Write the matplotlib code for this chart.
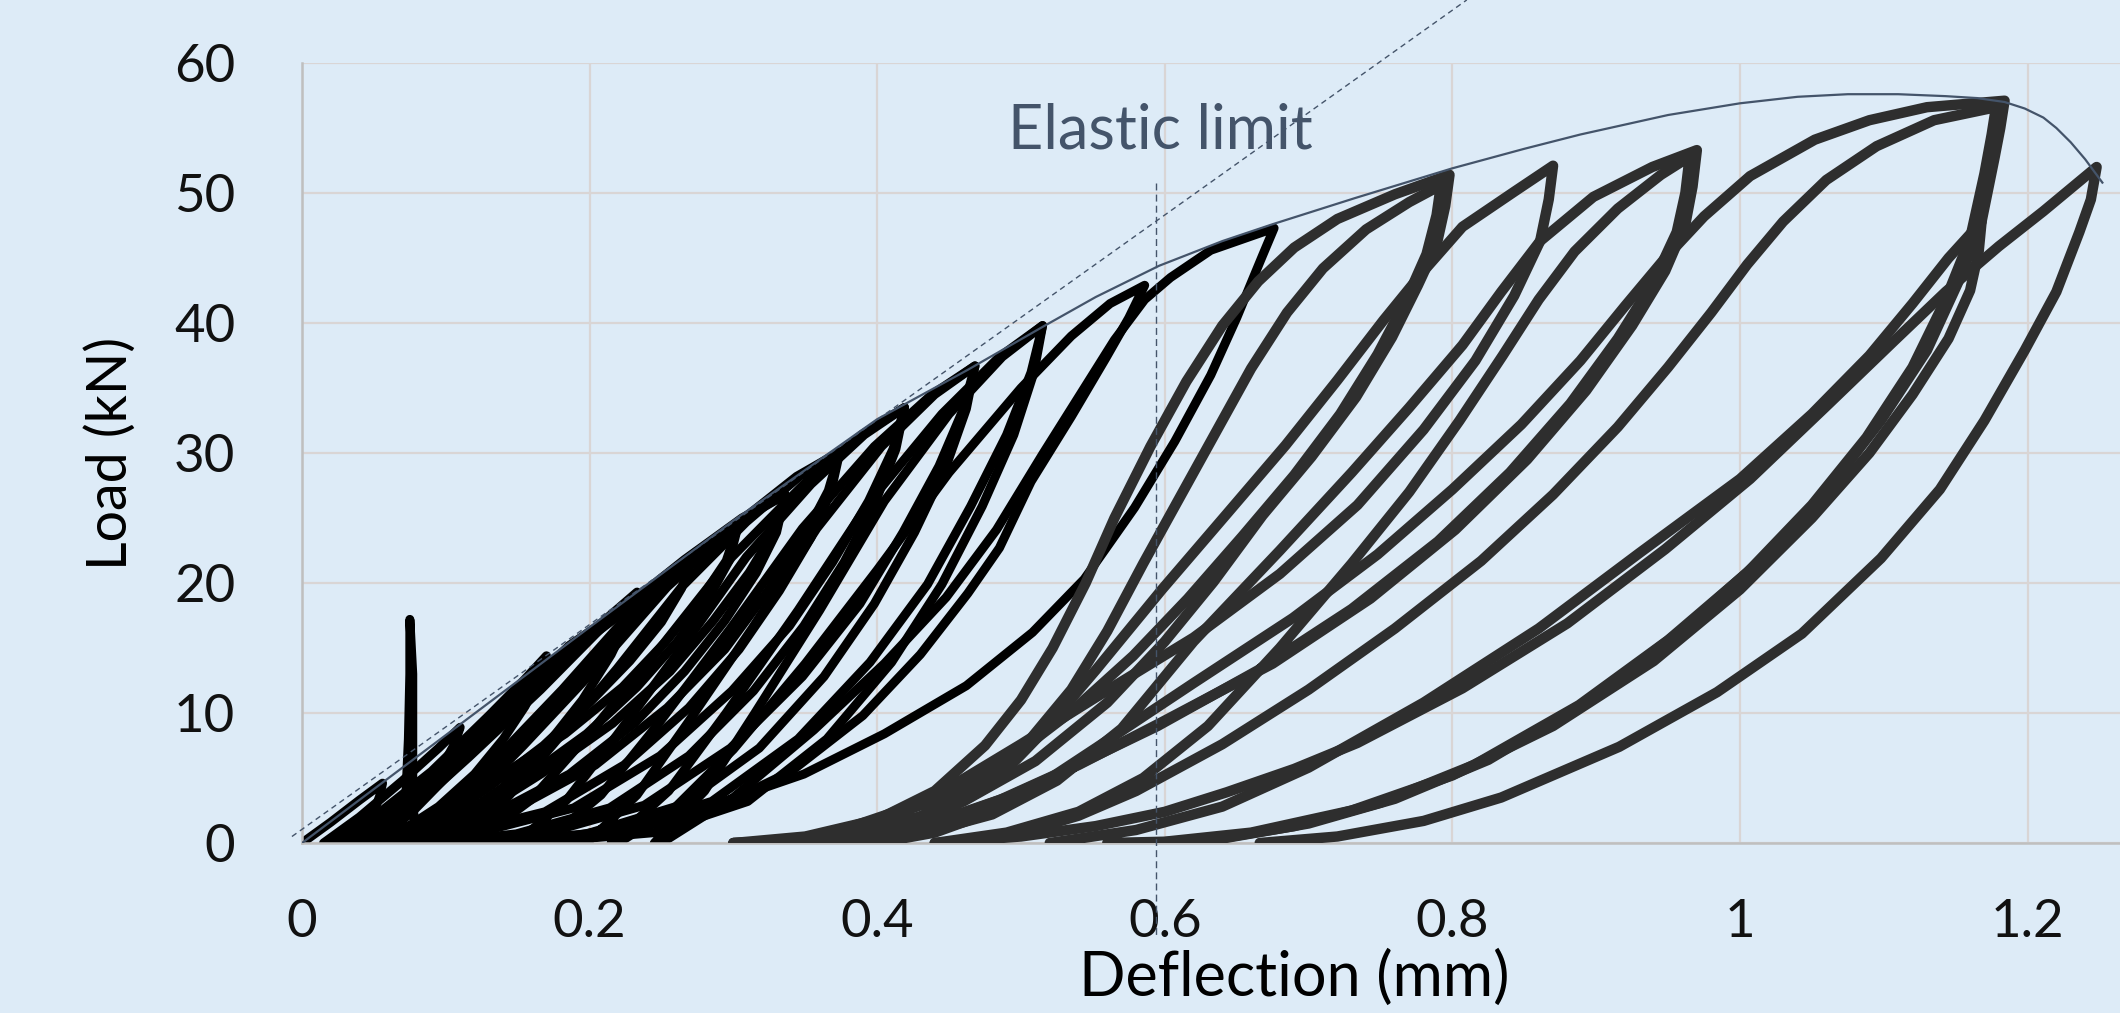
"""Cyclic load-deflection loops with envelope and elastic-limit marker."""
import matplotlib
matplotlib.use("Agg")
import matplotlib.pyplot as plt

BG = "#DDEBF7"
ENV_C = "#44546A"

plt.rcParams.update({
    "font.family": ["Lato", "DejaVu Sans"],
    "font.size": 38,
    "figure.dpi": 100,
})

# axis ticks
x_ticks = [0, 0.2, 0.4, 0.6, 0.8, 1.0, 1.2]
x_tick_labels = ["0", "0.2", "0.4", "0.6", "0.8", "1", "1.2"]
y_ticks = [0, 10, 20, 30, 40, 50, 60]

# early cycles (black): upper branch up to the tip, then back down
b01_x = [0.000, 0.020, 0.040, 0.056, 0.054, 0.050, 0.043, 0.035, 0.025]
b01_y = [0.0, 1.6, 3.3, 4.6, 3.6, 2.4, 1.2, 0.4, 0.0]
b02_x = [0.068, 0.072, 0.074, 0.075, 0.075, 0.077, 0.077, 0.077, 0.080]
b02_y = [0.0, 3.0, 8.0, 13.0, 17.2, 13.0, 8.0, 3.0, 0.0]
b03_x = [0.015, 0.040, 0.070, 0.095, 0.110, 0.106, 0.097, 0.085, 0.070, 0.055, 0.040]
b03_y = [0.0, 2.0, 4.8, 7.3, 8.9, 7.6, 5.8, 3.8, 2.0, 0.7, 0.0]
b04_x = [0.020, 0.050, 0.090, 0.130, 0.155, 0.170, 0.166, 0.155, 0.140, 0.120, 0.095, 0.070, 0.050]
b04_y = [0.0, 2.0, 5.5, 9.8, 12.6, 14.4, 12.8, 10.5, 8.0, 5.3, 2.8, 1.0, 0.0]
b05_x = [0.030, 0.060, 0.100, 0.140, 0.180, 0.210, 0.233,
         0.228, 0.215, 0.195, 0.170, 0.140, 0.110, 0.080, 0.050]
b05_y = [0.0, 1.8, 5.5, 9.8, 14.0, 17.1, 19.3, 17.5, 14.5, 11.0, 7.5, 4.3, 2.0, 0.6, 0.0]
b06_x = [0.050, 0.085, 0.120, 0.160, 0.200, 0.235, 0.255, 0.270,
         0.264, 0.250, 0.228, 0.200, 0.168, 0.130, 0.095, 0.065, 0.045]
b06_y = [0.0, 1.8, 4.6, 8.6, 13.3, 17.5, 19.9, 21.5,
         19.6, 17.0, 14.0, 10.8, 7.5, 4.3, 1.7, 0.4, 0.0]
b07_x = [0.030, 0.060, 0.095, 0.140, 0.186, 0.236, 0.274, 0.303,
         0.295, 0.278, 0.253, 0.223, 0.183, 0.133, 0.090, 0.060, 0.040]
b07_y = [0.0, 2.2, 5.6, 10.4, 15.2, 19.0, 22.4, 24.3,
         21.7, 18.9, 15.5, 12.0, 8.4, 4.8, 1.9, 0.5, 0.0]
b07b_x = [0.045, 0.075, 0.105, 0.148, 0.193, 0.238, 0.275, 0.303,
          0.297, 0.283, 0.261, 0.233, 0.198, 0.153, 0.105, 0.070, 0.050]
b07b_y = [0.0, 2.2, 5.6, 10.4, 15.2, 19.0, 22.4, 24.3,
          21.7, 18.9, 15.5, 12.0, 8.4, 4.8, 1.9, 0.5, 0.0]
b08_x = [0.036, 0.076, 0.116, 0.166, 0.216, 0.266, 0.306, 0.336,
         0.328, 0.311, 0.286, 0.256, 0.216, 0.166, 0.120, 0.080, 0.050]
b08_y = [0.0, 2.6, 6.6, 11.8, 17.4, 21.8, 25.0, 26.8,
         23.9, 20.8, 17.1, 13.2, 9.2, 5.3, 2.1, 0.5, 0.0]
b08b_x = [0.066, 0.101, 0.136, 0.181, 0.226, 0.271, 0.308, 0.336,
          0.330, 0.316, 0.294, 0.266, 0.231, 0.186, 0.131, 0.085, 0.055]
b08b_y = [0.0, 2.6, 6.6, 11.8, 17.4, 21.8, 25.0, 26.8,
          23.9, 20.8, 17.1, 13.2, 9.2, 5.3, 2.1, 0.5, 0.0]
b09_x = [0.074, 0.114, 0.154, 0.204, 0.254, 0.304, 0.344, 0.374,
         0.366, 0.349, 0.324, 0.294, 0.254, 0.204, 0.144, 0.095, 0.060]
b09_y = [0.0, 3.0, 7.5, 13.4, 19.7, 24.7, 28.2, 30.1,
         27.1, 23.5, 19.4, 14.9, 10.4, 6.0, 2.4, 0.6, 0.0]
b09b_x = [0.104, 0.139, 0.174, 0.219, 0.264, 0.309, 0.346, 0.374,
          0.368, 0.354, 0.332, 0.304, 0.269, 0.224, 0.169, 0.104, 0.065]
b09b_y = [0.0, 3.0, 7.5, 13.4, 19.7, 24.7, 28.2, 30.1,
          27.1, 23.5, 19.4, 14.9, 10.4, 6.0, 2.4, 0.6, 0.0]
b10_x = [0.119, 0.159, 0.199, 0.249, 0.299, 0.349, 0.389, 0.419,
         0.411, 0.394, 0.369, 0.339, 0.299, 0.249, 0.189, 0.119, 0.080]
b10_y = [0.0, 3.3, 8.3, 15.0, 22.0, 27.6, 31.4, 33.5,
         30.3, 26.3, 21.6, 16.7, 11.7, 6.7, 2.7, 0.7, 0.0]
b10b_x = [0.149, 0.184, 0.219, 0.264, 0.309, 0.354, 0.391, 0.419,
          0.413, 0.399, 0.377, 0.349, 0.314, 0.269, 0.214, 0.149, 0.090]
b10b_y = [0.0, 3.3, 8.3, 15.0, 22.0, 27.6, 31.4, 33.5,
          30.3, 26.3, 21.6, 16.7, 11.7, 6.7, 2.7, 0.7, 0.0]
b11_x = [0.168, 0.208, 0.248, 0.298, 0.348, 0.398, 0.438, 0.468,
         0.460, 0.443, 0.418, 0.388, 0.348, 0.298, 0.238, 0.168, 0.105]
b11_y = [0.0, 3.7, 9.2, 16.5, 24.2, 30.5, 34.5, 36.7,
         33.4, 29.0, 23.9, 18.4, 12.8, 7.3, 2.9, 0.7, 0.0]
b11b_x = [0.198, 0.233, 0.268, 0.313, 0.358, 0.403, 0.440, 0.468,
          0.462, 0.448, 0.426, 0.398, 0.363, 0.318, 0.263, 0.198, 0.125]
b11b_y = [0.0, 3.7, 9.2, 16.5, 24.2, 30.5, 34.5, 36.7,
          33.4, 29.0, 23.9, 18.4, 12.8, 7.3, 2.9, 0.7, 0.0]
b12_x = [0.215, 0.255, 0.295, 0.345, 0.395, 0.445, 0.485, 0.515,
         0.507, 0.490, 0.465, 0.435, 0.395, 0.345, 0.285, 0.215, 0.140]
b12_y = [0.0, 4.0, 10.0, 17.9, 26.3, 33.0, 37.4, 39.8,
         36.2, 31.4, 25.9, 19.9, 13.9, 8.0, 3.2, 0.8, 0.0]
b12b_x = [0.245, 0.280, 0.315, 0.360, 0.405, 0.450, 0.487, 0.515,
          0.509, 0.495, 0.473, 0.445, 0.410, 0.365, 0.310, 0.245, 0.160]
b12b_y = [0.0, 4.0, 10.0, 17.9, 26.3, 33.0, 37.4, 39.8,
          36.2, 31.4, 25.9, 19.9, 13.9, 8.0, 3.2, 0.8, 0.0]
b13_x = [0.220, 0.260, 0.300, 0.350, 0.400, 0.450, 0.500, 0.535, 0.562, 0.586,
         0.575, 0.559, 0.535, 0.507, 0.485, 0.463, 0.430, 0.390, 0.340, 0.280, 0.210, 0.150]
b13_y = [0.0, 2.8, 7.2, 13.8, 21.0, 28.5, 35.0, 39.0, 41.5, 42.9,
         40.4, 37.3, 32.8, 27.8, 22.7, 19.2, 14.5, 9.8, 5.5, 2.3, 0.6, 0.0]
b14_x = [0.250, 0.300, 0.356, 0.405, 0.448, 0.483, 0.515, 0.544, 0.565, 0.586, 0.604, 0.632, 0.676,
         0.668, 0.650, 0.632, 0.607, 0.579, 0.544, 0.508, 0.462, 0.405, 0.349, 0.278, 0.207, 0.160]
b14_y = [0.0, 3.5, 8.7, 13.8, 18.9, 24.1, 29.9, 35.0, 38.7, 41.8, 43.5, 45.6, 47.3,
         45.2, 40.4, 36.0, 30.9, 25.8, 20.3, 16.2, 12.1, 8.4, 5.3, 2.6, 0.9, 0.0]

# later cycles (dark grey)
g1_x = [0.300, 0.350, 0.400, 0.440, 0.475, 0.500, 0.522, 0.545, 0.565, 0.590, 0.615, 0.640,
        0.665, 0.690, 0.720, 0.760, 0.798,
        0.795, 0.789, 0.776, 0.758, 0.733, 0.702, 0.668, 0.634, 0.600, 0.560, 0.510,
        0.460, 0.410, 0.360, 0.320]
g1_y = [0.0, 0.5, 1.8, 4.0, 7.5, 11.0, 15.0, 20.0, 25.0, 30.5, 35.5, 39.8,
        43.2, 45.8, 48.0, 49.9, 51.4,
        49.0, 46.0, 42.9, 38.9, 34.3, 29.7, 25.2, 20.1, 15.5, 10.8, 6.3,
        3.2, 1.3, 0.3, 0.0]
g1b_x = [0.330, 0.380, 0.430, 0.470, 0.505, 0.535, 0.560, 0.585, 0.610, 0.635, 0.660, 0.685,
         0.710, 0.740, 0.770, 0.792,
         0.789, 0.782, 0.768, 0.748, 0.722, 0.690, 0.654, 0.616, 0.578, 0.535, 0.490,
         0.440, 0.390, 0.340, 0.300]
g1b_y = [0.0, 0.6, 2.0, 4.3, 7.8, 11.8, 16.3, 21.5, 26.5, 31.5, 36.5, 40.8,
         44.2, 47.2, 49.3, 50.6,
         48.3, 45.3, 41.8, 37.6, 33.0, 28.3, 23.6, 18.8, 14.4, 10.1, 6.3,
         3.3, 1.3, 0.2, 0.0]
g2_x = [0.340, 0.390, 0.440, 0.480, 0.515, 0.552, 0.598, 0.643, 0.684, 0.720, 0.752, 0.780,
        0.807, 0.843, 0.870,
        0.867, 0.861, 0.843, 0.816, 0.780, 0.734, 0.680, 0.620, 0.552, 0.500, 0.455,
        0.410, 0.370, 0.330, 0.300]
g2_y = [0.0, 0.6, 2.0, 4.5, 8.5, 13.3, 19.5, 25.3, 30.6, 35.6, 40.2, 44.0,
        47.4, 50.1, 52.1,
        49.5, 46.3, 42.1, 37.1, 31.8, 26.0, 20.7, 15.8, 11.2, 7.6, 4.6,
        2.3, 0.8, 0.1, 0.0]
g3_x = [0.380, 0.430, 0.480, 0.525, 0.570, 0.620, 0.680, 0.730, 0.770, 0.807, 0.834, 0.861,
        0.898, 0.939, 0.970,
        0.967, 0.962, 0.948, 0.925, 0.893, 0.852, 0.802, 0.743, 0.675, 0.598, 0.540,
        0.490, 0.440, 0.400, 0.360]
g3_y = [0.0, 0.7, 2.2, 4.8, 8.8, 15.5, 22.5, 28.5, 33.5, 38.3, 42.4, 46.3,
        49.7, 52.0, 53.3,
        50.5, 47.6, 44.0, 39.8, 34.8, 29.5, 24.1, 18.8, 13.8, 9.3, 6.0,
        3.5, 1.6, 0.5, 0.0]
g3b_x = [0.440, 0.490, 0.540, 0.585, 0.630, 0.680, 0.730, 0.770, 0.805, 0.835, 0.860, 0.885,
         0.915, 0.945, 0.965,
         0.962, 0.956, 0.940, 0.915, 0.882, 0.840, 0.790, 0.730, 0.665, 0.595, 0.535,
         0.485, 0.440, 0.400, 0.370]
g3b_y = [0.0, 0.8, 2.4, 5.0, 9.0, 15.0, 21.5, 27.0, 32.5, 37.5, 41.8, 45.5,
         48.8, 51.4, 52.8,
         50.0, 47.0, 43.2, 38.8, 33.8, 28.5, 23.2, 18.0, 13.3, 9.0, 5.8,
         3.3, 1.5, 0.4, 0.0]
g4_x = [0.400, 0.440, 0.480, 0.515, 0.552, 0.620, 0.689, 0.748, 0.800, 0.848, 0.889, 0.920,
        0.948, 0.975, 1.007, 1.052, 1.090, 1.130, 1.184,
        1.181, 1.177, 1.168, 1.152, 1.130, 1.098, 1.061, 1.016, 0.961, 0.898, 0.825,
        0.760, 0.700, 0.643, 0.600]
g4_y = [0.0, 0.8, 2.4, 4.6, 7.3, 12.3, 17.3, 22.2, 27.2, 32.2, 37.1, 41.3,
        45.0, 48.2, 51.3, 54.1, 55.6, 56.6, 57.1,
        55.0, 52.7, 47.8, 43.2, 37.9, 32.5, 27.2, 21.9, 16.5, 11.2, 6.4,
        3.4, 1.5, 0.4, 0.0]
g4b_x = [0.460, 0.500, 0.540, 0.580, 0.640, 0.700, 0.760, 0.820, 0.870, 0.915, 0.950, 0.980,
         1.005, 1.030, 1.060, 1.095, 1.135, 1.178,
         1.175, 1.170, 1.160, 1.143, 1.120, 1.088, 1.050, 1.005, 0.950, 0.888, 0.815,
         0.750, 0.690, 0.635, 0.590]
g4b_y = [0.0, 0.8, 2.1, 4.0, 7.6, 11.8, 16.5, 21.7, 26.8, 32.0, 36.6, 40.8,
         44.5, 47.8, 51.0, 53.6, 55.6, 56.6,
         54.5, 51.5, 46.5, 41.8, 36.6, 31.2, 26.0, 20.8, 15.6, 10.6, 6.0,
         3.1, 1.3, 0.3, 0.0]
g5_x = [0.520, 0.580, 0.640, 0.700, 0.780, 0.860, 0.930, 1.000, 1.050, 1.090, 1.120, 1.145, 1.168,
        1.166, 1.160, 1.145, 1.120, 1.090, 1.050, 1.000, 0.940, 0.870, 0.800, 0.730,
        0.660, 0.600, 0.560]
g5_y = [0.0, 1.0, 2.8, 5.8, 10.8, 16.5, 22.3, 28.0, 33.0, 37.5, 41.5, 45.0, 47.8,
        45.5, 42.5, 38.8, 34.5, 30.0, 25.0, 19.5, 14.0, 9.0, 5.2, 2.5,
        0.8, 0.1, 0.0]
g6_x = [0.440, 0.500, 0.552, 0.600, 0.643, 0.690, 0.734, 0.807, 0.880, 0.948, 1.007, 1.061,
        1.107, 1.143, 1.180, 1.211, 1.248,
        1.244, 1.236, 1.220, 1.198, 1.170, 1.139, 1.098, 1.043, 0.984, 0.916, 0.834,
        0.780, 0.720, 0.666]
g6_y = [0.0, 0.5, 1.3, 2.4, 3.9, 5.7, 7.7, 11.9, 16.9, 22.6, 28.0, 33.7,
        38.6, 42.4, 45.9, 48.6, 52.0,
        49.5, 47.0, 42.4, 37.9, 32.5, 27.2, 21.9, 16.1, 11.6, 7.4, 3.5,
        1.7, 0.5, 0.0]

# envelope curve
env_x = [0.0, 0.1, 0.2, 0.3, 0.4, 0.463, 0.515, 0.552, 0.596, 0.64, 0.675, 0.732, 0.80,
         0.85, 0.889, 0.95, 1.0, 1.04, 1.075, 1.11, 1.143, 1.165, 1.184, 1.198, 1.211,
         1.22, 1.23, 1.24, 1.252]
env_y = [0.0, 8.3, 16.6, 24.8, 32.6, 36.4, 39.7, 42.0, 44.4, 46.3, 47.6, 49.6, 51.9,
         53.4, 54.5, 56.0, 56.9, 57.4, 57.6, 57.6, 57.45, 57.3, 57.0, 56.5, 55.8,
         55.0, 53.9, 52.6, 50.8]

# elastic-limit construction lines
elastic_x = [-0.007, 0.81]
elastic_y = [0.5, 64.85]
limit_x = [0.594, 0.594]
limit_y = [50.8, -7.2]
label_text = "Elastic limit"
label_pos = (0.597, 54.8)

black_loops = [(b01_x, b01_y), (b02_x, b02_y), (b03_x, b03_y), (b04_x, b04_y),
               (b05_x, b05_y), (b06_x, b06_y), (b07_x, b07_y), (b07b_x, b07b_y),
               (b08_x, b08_y), (b08b_x, b08b_y), (b09_x, b09_y), (b09b_x, b09b_y),
               (b10_x, b10_y), (b10b_x, b10b_y), (b11_x, b11_y), (b11b_x, b11b_y),
               (b12_x, b12_y), (b12b_x, b12b_y), (b13_x, b13_y), (b14_x, b14_y)]
grey_loops = [(g1_x, g1_y), (g1b_x, g1b_y), (g2_x, g2_y), (g3_x, g3_y),
              (g3b_x, g3b_y), (g4_x, g4_y), (g4b_x, g4b_y), (g5_x, g5_y),
              (g6_x, g6_y)]


def main():
    W, H = 2120, 1013
    fig = plt.figure(figsize=(W / 100, H / 100), dpi=100, facecolor=BG)
    x0, x1, y_top, y_bot = 302, W, 63, 843
    ax = fig.add_axes([x0 / W, 1 - y_bot / H, (x1 - x0) / W, (y_bot - y_top) / H])
    ax.set_facecolor(BG)

    for lx, ly in black_loops:
        ax.plot(lx, ly, color="#000000", lw=6.5, solid_joinstyle="round",
                solid_capstyle="round", zorder=2)
    for lx, ly in grey_loops:
        ax.plot(lx, ly, color="#2E2E2E", lw=7.5, solid_joinstyle="round",
                solid_capstyle="round", zorder=3)

    ax.plot(env_x, env_y, color=ENV_C, lw=1.6, zorder=5)
    ax.plot(elastic_x, elastic_y, color=ENV_C, lw=1.0, ls=(0, (4, 3)),
            clip_on=False, zorder=5)
    ax.plot(limit_x, limit_y, color=ENV_C, lw=1.0, ls=(0, (5, 3)),
            clip_on=False, zorder=5)
    ax.text(*label_pos, label_text, color=ENV_C, fontsize=44,
            ha="center", va="center", zorder=6)

    ax.set_xlim(0, (x1 - x0) / 1438)
    ax.set_ylim(0, 60)
    ax.set_xticks(x_ticks)
    ax.set_xticklabels(x_tick_labels)
    ax.set_yticks(y_ticks)
    ax.tick_params(length=0, labelsize=38, colors="#111111")
    ax.tick_params(axis="y", pad=48)
    ax.tick_params(axis="x", pad=40)
    ax.grid(True, color="#D9D5D5", lw=1.6)
    ax.set_axisbelow(True)
    for s in ("top", "right"):
        ax.spines[s].set_visible(False)
    for s in ("left", "bottom"):
        ax.spines[s].set_color("#BFBFBF")
        ax.spines[s].set_linewidth(1.8)

    ax.set_xlabel("Deflection (mm)", fontsize=44)
    ax.xaxis.set_label_coords(0.546, -0.174)
    ax.xaxis.label.set_va("center")
    ax.set_ylabel("Load (kN)", fontsize=40)
    ax.yaxis.set_label_coords(-0.105, 0.5)
    ax.yaxis.label.set_va("center")

    fig.savefig("out.png", dpi=100, facecolor=BG)
    plt.close(fig)


if __name__ == "__main__":
    main()
